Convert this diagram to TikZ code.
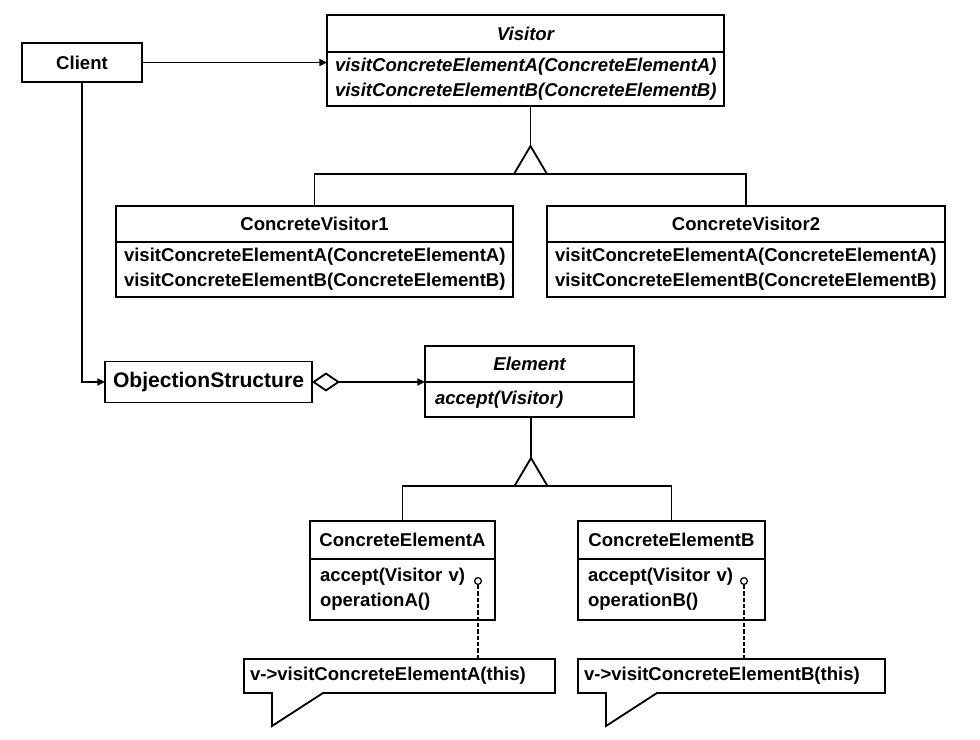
\documentclass[tikz,border=0pt]{standalone}
\usepackage{fontspec}
\setmainfont{Liberation Sans}
\usepackage{tikz}
\usetikzlibrary{positioning,arrows.meta,calc}

\begin{document}
\begin{tikzpicture}[
  font=\fontsize{13.2}{17.8}\selectfont\bfseries,
  head/.style={draw, line width=1.3pt, outer sep=0pt, minimum height=0.9cm, inner sep=2pt},
  body/.style={draw, line width=1.3pt, outer sep=0pt, align=left, anchor=north,
              inner xsep=0.2cm, inner ysep=3pt},
  note/.style={outer sep=0pt, inner xsep=0.15cm, align=left, minimum height=0.85cm},
  pin/.style={circle, draw, line width=0.9pt, fill=white, inner sep=0pt, minimum size=0.17cm},
  assoc/.style={-{Triangle[length=1.9mm,width=1.7mm]}, line width=1.3pt},
  aggr/.style={{Diamond[open,length=0.7cm,width=0.475cm]}-{Triangle[length=1.9mm,width=1.7mm]}, line width=1.3pt},
  gen/.style={line width=1.3pt},
  tail/.style={line width=1.3pt},
]
\useasboundingbox (0,0) rectangle (24.5,-18.5);

% ---- Client ----
\node[head, minimum width=3.0cm, minimum height=0.975cm] (client) at (2.05,-1.5625) {Client};

% ---- Visitor (abstracta) ----
\node[head, minimum width=9.925cm, minimum height=0.925cm] (visT) at (13.1375,-0.8375) {\itshape Visitor};
\node[body, text width=9.525cm, minimum height=1.35cm, below=0pt of visT] (visB)
     {\itshape visitConcreteElementA(ConcreteElementA)\\\itshape visitConcreteElementB(ConcreteElementB)};

% ---- Visitantes concretos ----
\node[head, minimum width=9.925cm] (cv1T) at (7.8625,-5.6) {ConcreteVisitor1};
\node[body, text width=9.525cm, minimum height=1.375cm, below=0pt of cv1T] (cv1B)
     {visitConcreteElementA(ConcreteElementA)\\visitConcreteElementB(ConcreteElementB)};
\node[head, minimum width=9.95cm] (cv2T) at (18.65,-5.6) {ConcreteVisitor2};
\node[body, text width=9.55cm, minimum height=1.375cm, below=0pt of cv2T] (cv2B)
     {visitConcreteElementA(ConcreteElementA)\\visitConcreteElementB(ConcreteElementB)};

% ---- ObjectionStructure y Element ----
\node[head, minimum width=5.175cm, minimum height=1.025cm, font=\fontsize{15}{17.8}\selectfont\bfseries]
     (objs) at (5.2125,-9.55) {ObjectionStructure};
\node[head, minimum width=5.225cm] (elT) at (13.2375,-9.1) {\itshape Element};
\node[body, text width=4.725cm, inner xsep=0.25cm, minimum height=0.875cm, below=0pt of elT] (elB)
     {\itshape accept(Visitor)};

% ---- Elementos concretos ----
\node[head, minimum width=4.625cm, minimum height=0.95cm] (ceaT) at (10.0625,-13.5) {ConcreteElementA};
\node[body, text width=4.125cm, inner xsep=0.25cm, minimum height=1.525cm, below=0pt of ceaT] (ceaB)
     {accept(Visitor v)\\operationA()};
\node[head, minimum width=4.675cm, minimum height=0.95cm] (cebT) at (16.7875,-13.5) {ConcreteElementB};
\node[body, text width=4.175cm, inner xsep=0.25cm, minimum height=1.525cm, below=0pt of cebT] (cebB)
     {accept(Visitor v)\\operationB()};

% ---- Notas ----
\node[note, text width=7.475cm] (noteA) at (9.9875,-16.9) {v->visitConcreteElementA(this)};
\node[note, text width=7.375cm] (noteB) at (18.2875,-16.9) {v->visitConcreteElementB(this)};
\foreach \n in {noteA,noteB}
  \draw[tail] (\n.south west) -- (\n.north west) -- (\n.north east) -- (\n.south east)
    -- ($(\n.south west)+(1.975,0)$) -- ($(\n.south west)+(0.7,-0.825)$)
    -- ($(\n.south west)+(0.7,0)$) -- cycle;

\node[pin] (dotA) at (11.95,-14.525) {};
\node[pin] (dotB) at (18.6,-14.525) {};
\draw[tail, dash pattern=on 3pt off 1.5pt] (dotA) -- (dotA |- noteA.north);
\draw[tail, dash pattern=on 3pt off 1.5pt] (dotB) -- (dotB |- noteB.north);

% ---- Asociaciones ----
\draw[assoc] (client.east) -- (client.east -| visB.west);
\draw[assoc] (client.south) |- (objs.west);
\draw[aggr]  (objs.east) -- (elT.south west);

% ---- Herencia ----
\coordinate (vbar) at (13.2625,-4.35);
\coordinate (vtip) at (13.2625,-3.65);
\draw[gen] (cv1T.north) |- (vbar) -| (cv2T.north);
\draw[gen, fill=white] ($(vbar)+(-0.4125,0)$) -- (vtip) -- ($(vbar)+(0.4125,0)$) -- cycle;
\draw[gen] (vtip) -- (vtip |- visB.south);

\coordinate (ebar) at (13.275,-12.15);
\coordinate (etip) at (13.275,-11.45);
\draw[gen] (ceaT.north) |- (ebar) -| (cebT.north);
\draw[gen, fill=white] ($(ebar)+(-0.4125,0)$) -- (etip) -- ($(ebar)+(0.4125,0)$) -- cycle;
\draw[gen] (etip) -- (etip |- elB.south);

\end{tikzpicture}
\end{document}
